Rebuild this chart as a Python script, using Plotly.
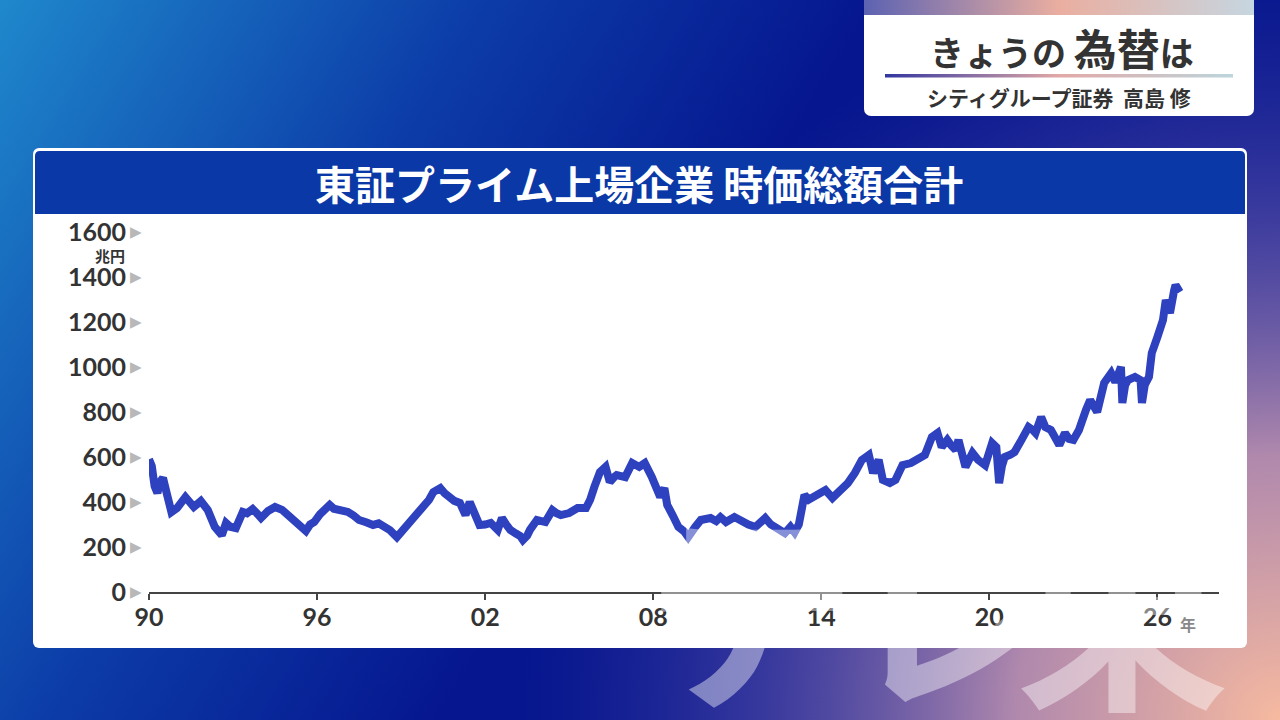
import base64
import plotly.graph_objects as go

# 東証プライム上場企業 時価総額合計 (兆円)
years = [
    1990.0, 1990.1, 1990.2, 1990.3, 1990.4, 1990.5, 1990.65, 1990.8, 1991.0, 1991.15,
    1991.3, 1991.45, 1991.6, 1991.85, 1992.1, 1992.35, 1992.5, 1992.6, 1992.75, 1992.9,
    1993.1, 1993.35, 1993.5, 1993.7, 1993.85, 1994.0, 1994.25, 1994.5, 1994.75, 1994.95,
    1995.2, 1995.4, 1995.6, 1995.75, 1995.9, 1996.1, 1996.3, 1996.45, 1996.6, 1996.8,
    1997.1, 1997.3, 1997.5, 1997.75, 1998.0, 1998.2, 1998.4, 1998.6, 1998.85, 1999.0,
    1999.15, 1999.35, 1999.5, 1999.7, 1999.85, 2000.0, 2000.15, 2000.3, 2000.4, 2000.55,
    2000.75, 2000.9, 2001.1, 2001.3, 2001.45, 2001.6, 2001.8, 2002.0, 2002.2, 2002.45,
    2002.6, 2002.75, 2002.9, 2003.1, 2003.25, 2003.35, 2003.5, 2003.6, 2003.85, 2004.15,
    2004.4, 2004.55, 2004.7, 2005.0, 2005.3, 2005.6, 2005.75, 2005.9, 2006.1, 2006.3,
    2006.45, 2006.6, 2006.7, 2007.0, 2007.25, 2007.5, 2007.7, 2007.95, 2008.1, 2008.25,
    2008.4, 2008.5, 2008.7, 2008.9, 2009.1, 2009.25, 2009.5, 2009.7, 2010.05, 2010.25,
    2010.4, 2010.6, 2010.9, 2011.2, 2011.4, 2011.65, 2012.0, 2012.2, 2012.35, 2012.55,
    2012.7, 2012.9, 2013.05, 2013.2, 2013.3, 2013.4, 2013.55, 2013.7, 2013.95, 2014.15,
    2014.4, 2014.7, 2014.95, 2015.2, 2015.45, 2015.6, 2015.7, 2015.85, 2016.05, 2016.2,
    2016.45, 2016.65, 2016.9, 2017.2, 2017.45, 2017.7, 2017.95, 2018.15, 2018.3, 2018.5,
    2018.65, 2018.8, 2018.9, 2019.0, 2019.15, 2019.4, 2019.6, 2019.85, 2020.0, 2020.1,
    2020.25, 2020.3, 2020.35, 2020.45, 2020.55, 2020.75, 2020.9, 2021.15, 2021.4, 2021.55,
    2021.65, 2021.85, 2022.0, 2022.2, 2022.4, 2022.5, 2022.7, 2022.85, 2023.0, 2023.2,
    2023.45, 2023.6, 2023.85, 2024.1, 2024.35, 2024.5, 2024.7, 2024.75, 2024.85, 2024.95,
    2025.2, 2025.4, 2025.45, 2025.55, 2025.7, 2025.8, 2026.0, 2026.2, 2026.3, 2026.45,
    2026.6, 2026.65, 2026.8,
]
market_cap = [
    590, 560, 470, 440, 490, 507, 430, 355, 373, 395,
    422, 400, 378, 404, 364, 289, 270, 253, 307, 290,
    284, 356, 350, 369, 350, 329, 360, 378, 365, 342,
    310, 284, 271, 300, 311, 345, 373, 387, 370, 364,
    356, 340, 320, 310, 298, 305, 289, 275, 244, 265,
    284, 320, 342, 364, 378, 410, 444, 453, 462, 440,
    418, 405, 396, 342, 400, 350, 298, 300, 307, 276,
    329, 300, 276, 260, 249, 231, 250, 276, 320, 311,
    364, 350, 342, 351, 373, 373, 410, 467, 533, 556,
    489, 510, 520, 511, 573, 556, 573, 511, 470, 422,
    462, 387, 340, 289, 270, 244, 289, 320, 329, 315,
    333, 311, 333, 307, 300, 289, 329, 300, 289, 270,
    262, 290, 265, 300, 351, 431, 410, 422, 440, 453,
    418, 453, 484, 529, 587, 600, 609, 529, 587, 498,
    484, 498, 564, 573, 596, 609, 689, 707, 644, 676,
    650, 631, 676, 620, 556, 618, 587, 564, 640, 662,
    644, 560, 484, 560, 600, 610, 622, 676, 733, 720,
    707, 778, 733, 720, 676, 653, 707, 680, 676, 720,
    809, 853, 800, 929, 973, 933, 1000, 840, 920, 942,
    956, 942, 840, 920, 956, 1062, 1133, 1209, 1298, 1240,
    1342, 1364, 1333,
]

x_ticks = [1990, 1996, 2002, 2008, 2014, 2020, 2026]
x_labels = ["90", "96", "02", "08", "14", "20", "26"]
y_ticks = [0, 200, 400, 600, 800, 1000, 1200, 1400, 1600]

W, H = 1280, 720
JP = "Noto Sans CJK JP"
NUM = "Lato, Noto Sans CJK JP"


def px(x, y):
    return x / W, 1 - y / H


# background, caption card and chart panel drawn as one svg
svg = """<svg xmlns="http://www.w3.org/2000/svg" width="1280" height="720">
<defs>
<linearGradient id="bg" gradientUnits="userSpaceOnUse" x1="0" y1="0" x2="640" y2="390">
<stop offset="0" stop-color="#1f88cc"/><stop offset="0.55" stop-color="#0c3ca8"/><stop offset="1" stop-color="#06168e"/>
</linearGradient>
<radialGradient id="pk" gradientUnits="userSpaceOnUse" cx="1280" cy="720" r="760">
<stop offset="0" stop-color="#f7baa0" stop-opacity="1"/>
<stop offset="0.35" stop-color="#c295b0" stop-opacity="0.9"/>
<stop offset="0.7" stop-color="#6a5cae" stop-opacity="0.45"/>
<stop offset="1" stop-color="#3a3aa0" stop-opacity="0"/>
</radialGradient>
<linearGradient id="strip" x1="0" y1="0" x2="1" y2="0">
<stop offset="0" stop-color="#5c62b2"/><stop offset="0.5" stop-color="#eaaea0"/><stop offset="1" stop-color="#c6d6e0"/>
</linearGradient>
<linearGradient id="ul" x1="0" y1="0" x2="1" y2="0">
<stop offset="0" stop-color="#3236a0"/><stop offset="0.5" stop-color="#e2a8a6"/><stop offset="1" stop-color="#bcd6dc"/>
</linearGradient>
</defs>
<rect width="1280" height="720" fill="url(#bg)"/>
<rect width="1280" height="720" fill="url(#pk)"/>
<rect x="864" y="-10" width="390" height="126" rx="7" fill="#ffffff"/>
<rect x="864" y="0" width="390" height="15" fill="url(#strip)"/>
<rect x="885" y="74" width="348" height="3.5" fill="url(#ul)"/>
<rect x="33" y="148" width="1214" height="500" rx="6" fill="#ffffff"/>
<path d="M35,156 Q35,151 40,151 L1240,151 Q1245,151 1245,156 L1245,214 L35,214 Z" fill="#0a38a6"/>
</svg>"""
bg_src = "data:image/svg+xml;base64," + base64.b64encode(svg.encode("utf-8")).decode()

fig = go.Figure()
fig.add_trace(go.Scatter(
    x=years, y=market_cap, mode="lines",
    line=dict(color="#2e41be", width=8),
    hoverinfo="skip", showlegend=False,
))

fig.update_layout(
    width=W, height=H,
    margin=dict(l=0, r=0, t=0, b=0, pad=0, autoexpand=False),
    paper_bgcolor="#06168e",
    plot_bgcolor="rgba(0,0,0,0)",
    showlegend=False,
    images=[dict(
        source=bg_src, xref="paper", yref="paper", x=0, y=1,
        sizex=1, sizey=1, xanchor="left", yanchor="top",
        sizing="stretch", layer="below",
    )],
    xaxis=dict(
        domain=[149 / W, 1219 / W], range=[1990, 2028.2],
        tickvals=x_ticks, ticktext=x_labels,
        showline=True, linecolor="#444444", linewidth=2,
        ticks="outside", ticklen=6, tickwidth=1.5, tickcolor="#444444",
        showgrid=False, zeroline=False, ticklabelstandoff=-4,
        tickfont=dict(family=NUM, size=25, color="#333333", weight="bold"),
        fixedrange=True, automargin=False,
    ),
    yaxis=dict(
        domain=[(H - 592) / H, (H - 232) / H], range=[0, 1600],
        tickvals=y_ticks,
        showline=False, showgrid=False, zeroline=False, ticks="",
        ticklabelstandoff=22,
        tickfont=dict(family=NUM, size=25, color="#333333", weight="bold"),
        fixedrange=True, automargin=False,
    ),
)

# grey pointers beside the y tick labels
for v in y_ticks:
    fig.add_annotation(
        x=136 / W, y=v, xref="paper", yref="y", text="▶", showarrow=False,
        xanchor="center", yanchor="middle",
        font=dict(family="DejaVu Sans", size=15, color="#b8b8b8"),
    )

notes = [
    (639, 183, "<b>東証プライム上場企業 時価総額合計</b>", 40, "#ffffff"),
    (1062, 47, "<b>きょうの\u00a0<span style='font-size:43px'>為替</span>は</b>", 34, "#333333"),
    (1059, 97, "<b>シティグループ証券\u00a0\u00a0高島\u00a0修</b>", 21, "#333333"),
    (110, 255, "<b>兆円</b>", 15, "#333333"),
    (1188, 624, "<b>年</b>", 16, "#333333"),
]
for x, y, text, size, color in notes:
    ax, ay = px(x, y)
    fig.add_annotation(
        x=ax, y=ay, xref="paper", yref="paper", text=text, showarrow=False,
        xanchor="center", yanchor="middle",
        font=dict(family=JP, size=size, color=color),
    )

# faint channel logo lying over everything at the bottom right
for x, ch in [(750, "テ"), (950, "レ"), (1122, "東")]:
    ax, ay = px(x, 757)
    fig.add_annotation(
        x=ax, y=ay, xref="paper", yref="paper", text=f"<b>{ch}</b>",
        showarrow=False, xanchor="center", yanchor="bottom",
        font=dict(family=JP, size=215, color="rgba(255,255,255,0.42)"),
    )

fig.write_html(
    "out.html",
    config={"displayModeBar": False},
    post_script="document.body.style.margin='0';document.body.style.overflow='hidden';",
)
